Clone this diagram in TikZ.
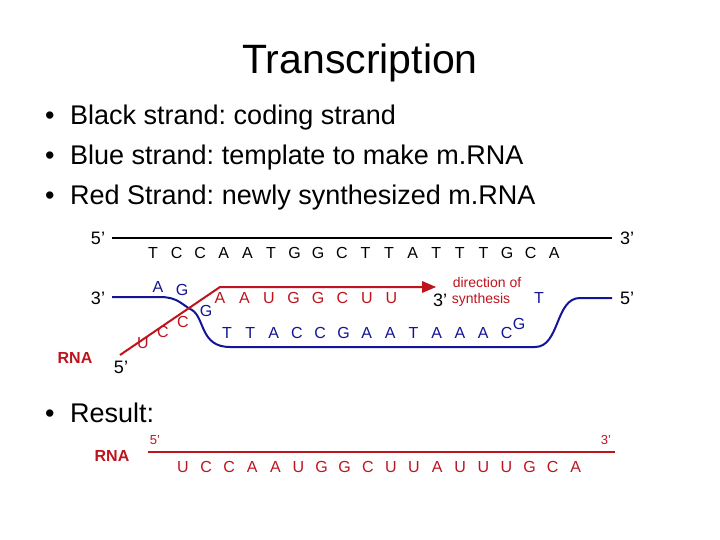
\documentclass[tikz,border=0pt]{standalone}
\usepackage{fontspec}
\setmainfont{Liberation Sans}
\usetikzlibrary{arrows.meta}
\definecolor{dred}{RGB}{190,20,30}
\definecolor{dblue}{RGB}{20,20,150}
\frenchspacing
\begin{document}
\begin{tikzpicture}[x=1pt,y=-1pt,
  base/.style={inner sep=0pt,anchor=center},
  bul/.style={base,anchor=west,font=\fontsize{27}{29}\selectfont},
  lab/.style={base,font=\fontsize{18}{20}\selectfont},
  nuc/.style={base,font=\fontsize{16}{17}\selectfont},
  sm/.style={base,font=\fontsize{13}{14}\selectfont,text=dred}]
\useasboundingbox (0,0) rectangle (720,540);
\fill[white] (0,0) rectangle (720,540);
\node[base,font=\fontsize{41}{44}\selectfont] (title) at (360,63) {Transcription};
\node[bul] (b1) at (45,118) {\makebox[25pt][l]{•}Black strand: coding strand};
\node[bul] (b2) at (45,158) {\makebox[25pt][l]{•}Blue strand: template to make m.RNA};
\node[bul] (b3) at (45,198) {\makebox[25pt][l]{•}Red Strand: newly synthesized m.RNA};
\node[bul] (b4) at (45,413) {\makebox[25pt][l]{•}Result:};
% black strand
\node[lab] (l5a) at (98,238) {5’};
\node[lab] (l3a) at (627,238) {3’};
\draw[line width=2.2pt] (112,238) -- (612,238);
\foreach \c [count=\i from 0] in {T,C,C,A,A,T,G,G,C,T,T,A,T,T,T,G,C,A}
  \node[nuc] (k\i) at (153+23.6*\i,253) {\c};
% blue strand
\node[lab] (l3b) at (98,298) {3’};
\node[lab] (l5b) at (627,298) {5’};
\draw[dblue,line width=2pt] (112,297) -- (160,297) .. controls (178,297) and (182,305) .. (192,310)
  .. controls (205,318) and (200,347) .. (230,347) -- (535,347)
  .. controls (560,347) and (555,298) .. (580,298) -- (612,298);
\node[nuc,text=dblue] (ba) at (158,287) {A};
\node[nuc,text=dblue] (bg) at (182,290) {G};
\node[nuc,text=dblue] (bg2) at (206,311) {G};
\node[nuc,text=dblue] (bt) at (539,298) {T};
\node[nuc,text=dblue] (bg3) at (519,324) {G};
\foreach \c [count=\i from 0] in {T,T,A,C,C,G,A,A,T,A,A,A,C}
  \node[nuc,text=dblue] (bl\i) at (227+23.3*\i,333) {\c};
% red strand
\draw[dred,line width=2pt] (120,355) -- (220,287) -- (428,287);
\fill[dred] (436,287) -- (422,281) -- (422,293) -- cycle;
\node[nuc,text=dred] (ru) at (143,343) {U};
\node[nuc,text=dred] (rc1) at (163,332) {C};
\node[nuc,text=dred] (rc2) at (183,322) {C};
\foreach \c [count=\i from 0] in {A,A,U,G,G,C,U,U}
  \node[nuc,text=dred] (r\i) at (220+24.5*\i,298) {\c};
\node[lab] (l3c) at (440,300) {3’};
\node[base,font=\fontsize{14}{15}\selectfont,text=dred] (dir) at (487,282) {direction of};
\node[base,font=\fontsize{14}{15}\selectfont,text=dred] (syn) at (481,300) {synthesis};
\node[base,font=\bfseries\fontsize{16}{17}\selectfont,text=dred] (rna) at (75,358) {RNA};
\node[lab] (l5c) at (121,367) {5’};
% result
\node[base,font=\bfseries\fontsize{16}{17}\selectfont,text=dred] (rna2) at (112,456) {RNA};
\draw[dred,line width=2pt] (148,452) -- (615,452);
\node[sm] (r5) at (155,440) {5’};
\node[sm] (r3) at (606,440) {3’};
\foreach \c [count=\i from 0] in {U,C,C,A,A,U,G,G,C,U,U,A,U,U,U,G,C,A}
  \node[nuc,text=dred] (s\i) at (183+23.1*\i,467) {\c};
\end{tikzpicture}
\end{document}
